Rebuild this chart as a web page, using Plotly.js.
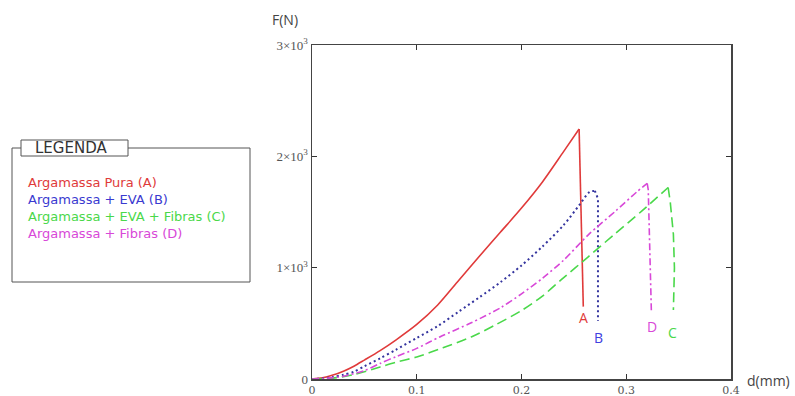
<!DOCTYPE html>
<html>
<head>
<meta charset="utf-8">
<script src="https://cdn.plot.ly/plotly-3.0.1.min.js"></script>
<style>html,body{margin:0;padding:0;background:#fff;}#chart{width:795px;height:396px;}</style>
</head>
<body>
<div id="chart"></div>
<script>
// Data
const dA = [0,0.01,0.02,0.03,0.04,0.05,0.065,0.08,0.1,0.12,0.14,0.16,0.18,0.2,0.22,0.24,0.255,0.259];
const fA = [0,10,35,70,115,170,255,350,490,665,885,1105,1320,1535,1770,2040,2245,650];
const dB = [0,0.01,0.02,0.03,0.04,0.05,0.065,0.08,0.1,0.12,0.14,0.16,0.18,0.2,0.22,0.24,0.255,0.265,0.27,0.273,0.273];
const fB = [0,5,18,38,65,115,185,262,369,475,605,735,870,1020,1190,1380,1560,1680,1690,1620,520];
const dD = [0,0.01,0.02,0.03,0.05,0.065,0.08,0.1,0.122,0.152,0.18,0.2,0.22,0.24,0.264,0.29,0.31,0.32,0.321,0.324];
const fD = [0,3,12,25,75,140,200,275,378,505,640,765,905,1065,1297,1510,1680,1757,1700,600];
const dC = [0,0.02,0.04,0.065,0.08,0.1,0.125,0.152,0.175,0.2,0.22,0.238,0.264,0.29,0.315,0.34,0.342,0.345,0.346,0.345];
const fC = [0,8,40,108,150,198,280,378,485,615,745,892,1100,1310,1510,1720,1590,1300,1000,620];
const seriesNames = ["Argamassa Pura (A)","Argamassa + EVA (B)","Argamassa + EVA + Fibras (C)","Argamassa + Fibras (D)"];
const seriesLetters = ["A","B","C","D"];
const xTickVals = [0,0.1,0.2,0.3,0.4];
const xTickText = ["0","0.1","0.2","0.3","0.4"];
const yTickVals = [0,1000,2000,3000];
const yTickText = ["0","1×10<sup>3</sup>","2×10<sup>3</sup>","3×10<sup>3</sup>"];

const cRed = "#e03a3a", cBlue = "#34349e", cGreen = "#4ad84a", cMag = "#d848d8";

const L = 312, R = 731, T = 45, B = 379;
const px = x => (x - L) / (R - L);
const py = y => (B - y) / (B - T);

function split(d, f, line) {
  let k = 0;
  for (let i = 1; i < f.length; i++) if (f[i] > f[k]) k = i;
  return [
    {x:d.slice(0, k + 1), y:f.slice(0, k + 1), mode:"lines", line:Object.assign({shape:"spline", smoothing:0.8}, line), hoverinfo:"skip"},
    {x:d.slice(k), y:f.slice(k), mode:"lines", line:Object.assign({shape:"linear"}, line), hoverinfo:"skip"}
  ];
}

const traces = [].concat(
  split(dA, fA, {color:cRed, width:1.6, dash:"solid"}),
  split(dB, fB, {color:cBlue, width:2, dash:"2px,3px"}),
  split(dC, fC, {color:cGreen, width:1.6, dash:"10px,5px"}),
  split(dD, fD, {color:cMag, width:1.6, dash:"7px,3px,2px,3px"})
);

const fontFam = "Open Sans, Noto Sans, sans-serif";
function A(x, y, text, size, color, fam, xa) {
  return {xref:"paper", yref:"paper", x:px(x), y:py(y), text:text, showarrow:false,
    xanchor:xa || "center", yanchor:"middle", font:{size:size, color:color, family:fam || fontFam}};
}
const ann = [
  A(285, 20, "F(N)", 14, "#444"),
  A(768, 380, "d(mm)", 14, "#444"),
  A(583, 317, seriesLetters[0], 14, cRed),
  A(598, 337, seriesLetters[1], 14, "#4040e0"),
  A(672, 332, seriesLetters[2], 14, cGreen),
  A(652, 326, seriesLetters[3], 14, cMag),
  A(71, 148, "LEGENDA", 15, "#333", "DejaVu Sans")
];
const legColors = [cRed, "#3a3ad0", cGreen, cMag];
const legText = seriesNames.map((s, i) => '<span style="color:' + legColors[i] + '">' + s + '</span>').join("<br>");
const legAnn = A(26, 208, legText, 13, "#333", "DejaVu Sans", "left");
legAnn.align = "left";
ann.push(legAnn);

const shapes = [
  {type:"rect", xref:"paper", yref:"paper", x0:px(12), x1:px(250), y0:py(148), y1:py(282), line:{color:"#555", width:1}, fillcolor:"rgba(0,0,0,0)"},
  {type:"rect", xref:"paper", yref:"paper", x0:px(21), x1:px(128), y0:py(140), y1:py(156), line:{color:"#555", width:1}, fillcolor:"#fff"}
];

const layout = {
  width:795, height:396,
  margin:{l:L, r:795-R, t:T, b:396-B, pad:0},
  paper_bgcolor:"#fff", plot_bgcolor:"#fff",
  showlegend:false,
  font:{family:fontFam, color:"#555", size:11},
  xaxis:{range:[0,0.4], tickvals:xTickVals, ticktext:xTickText, ticks:"inside", ticklen:5, tickcolor:"#333",
    showgrid:false, zeroline:false, showline:true, linecolor:"#444", linewidth:1.5, mirror:"allticks",
    tickfont:{size:11, color:"#555", family:"DejaVu Serif, serif"}},
  yaxis:{range:[0,3000], tickvals:yTickVals, ticktext:yTickText, ticks:"inside", ticklen:5, tickcolor:"#333",
    showgrid:false, zeroline:false, showline:true, linecolor:"#444", linewidth:1.5, mirror:"allticks",
    tickfont:{size:13, color:"#555", family:"Liberation Serif, serif"}},
  annotations:ann,
  shapes:shapes
};

Plotly.newPlot("chart", traces, layout, {staticPlot:true, displayModeBar:false});
</script>
</body>
</html>
